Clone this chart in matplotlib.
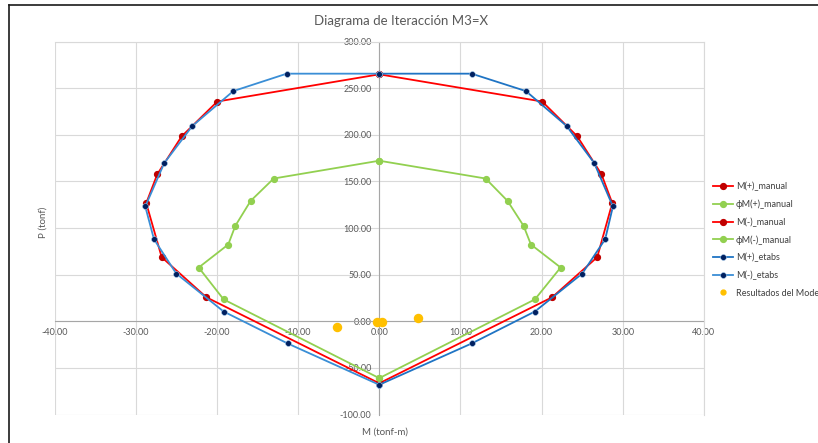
import matplotlib
matplotlib.use("Agg")
import matplotlib.pyplot as plt
from matplotlib.lines import Line2D
import numpy as np

plt.rcParams['font.family'] = ['Lato', 'DejaVu Sans']

# interaction diagram (M in tonf-m, P in tonf)
m_pos_manual = [0.0, 20.07, 24.38, 27.37, 28.70, 26.85, 21.30, 0.0]
p_pos_manual = [265.0, 235.8, 198.6, 157.8, 126.8, 68.8, 25.8, -66.5]
m_neg_manual = [0.0, -19.95, -24.34, -27.34, -28.70, -26.80, -21.30, 0.0]
p_neg_manual = [265.0, 235.8, 198.4, 157.8, 126.8, 68.8, 25.8, -66.5]

m_phi_pos = [0.0, 13.10, 15.80, 17.78, 18.68, 22.34, 19.17, 0.0]
p_phi_pos = [172.3, 153.2, 129.2, 102.4, 82.4, 57.7, 23.5, -61.0]
m_phi_neg = [0.0, -13.00, -15.84, -17.73, -18.60, -22.24, -19.17, 0.0]
p_phi_neg = [172.3, 153.2, 129.2, 102.4, 82.4, 57.7, 23.5, -61.0]

m_pos_etabs = [0.0, 11.38, 18.07, 23.08, 26.48, 28.78, 27.83, 25.00, 19.17, 11.38, 0.0]
p_pos_etabs = [265.7, 265.7, 247.0, 209.5, 169.8, 123.2, 88.1, 51.2, 10.5, -23.8, -68.1]
m_neg_etabs = [0.0, -11.40, -17.98, -23.03, -26.48, -28.82, -27.75, -25.00, -19.17, -11.28, 0.0]
p_neg_etabs = [265.7, 265.7, 247.0, 209.5, 169.8, 123.2, 88.1, 51.2, 10.5, -23.8, -68.1]

m_modelo = [-5.25, -0.30, 0.30, 4.80]
p_modelo = [-6.0, -1.0, -1.0, 3.8]

x_ticks = np.arange(-40, 41, 10)
y_ticks = np.arange(-100, 301, 50)

W, H = 818, 443
fig = plt.figure(figsize=(W / 100, H / 100), dpi=100)
ax = fig.add_axes([54.5 / W, 1 - 414.5 / H, (704 - 54.5) / W, (414.5 - 41.7) / H])

red, red_mk = '#ff0000', '#c00000'
green = '#92d050'
navy = '#002060'

ax.plot(m_pos_manual, p_pos_manual, color=red, lw=1.3, marker='o', ms=4.2,
        mfc=red_mk, mec=red_mk, label='M(+)_manual', zorder=3)
ax.plot(m_phi_pos, p_phi_pos, color=green, lw=1.3, marker='o', ms=4.2,
        mfc=green, mec=green, label='ϕM(+)_manual', zorder=3)
ax.plot(m_neg_manual, p_neg_manual, color=red, lw=1.3, marker='o', ms=4.2,
        mfc=red_mk, mec=red_mk, label='M(-)_manual', zorder=3)
ax.plot(m_phi_neg, p_phi_neg, color=green, lw=1.3, marker='o', ms=4.2,
        mfc=green, mec=green, label='ϕM(-)_manual', zorder=3)
ax.plot(m_pos_etabs, p_pos_etabs, color='#1f74c4', lw=1.3, marker='o', ms=4.2,
        mfc=navy, mec='#9dc3e6', mew=0.4, label='M(+)_etabs', zorder=4)
ax.plot(m_neg_etabs, p_neg_etabs, color='#3a8ed6', lw=1.3, marker='o', ms=4.2,
        mfc=navy, mec='#9dc3e6', mew=0.4, label='M(-)_etabs', zorder=4)
ax.plot(m_modelo, p_modelo, ls='none', marker='o', ms=5.8, mfc='#ffc000',
        mec='#ffc000', label='Resultados del Modelo', zorder=5)

ax.set_xlim(-40, 40)
ax.set_ylim(-100, 300)
ax.set_xticks(x_ticks)
ax.set_yticks(y_ticks)
ax.set_xticklabels(['%.2f' % v for v in x_ticks])
ax.set_yticklabels(['%.2f' % v for v in y_ticks])
ax.grid(True, color='#d9d9d9', lw=0.8)
ax.set_axisbelow(True)

ax.spines['left'].set_position('zero')
ax.spines['bottom'].set_position('zero')
for s in ['left', 'bottom']:
    ax.spines[s].set_color('#a6a6a6')
    ax.spines[s].set_linewidth(0.8)
    ax.spines[s].set_zorder(2)
for s in ['top', 'right']:
    ax.spines[s].set_color('#d9d9d9')
    ax.spines[s].set_linewidth(0.8)
ax.tick_params(axis='both', length=0, labelsize=6.5, labelcolor='#595959')
ax.tick_params(axis='y', pad=5.5)
ax.tick_params(axis='x', pad=5.0)

fig.text(401 / W, 1 - 21 / H, 'Diagrama de Iteracción M3=X', ha='center', va='center',
         fontsize=9.5, color='#595959')
fig.text(43 / W, 1 - 222 / H, 'P (tonf)', ha='center', va='center', rotation=90,
         fontsize=7, color='#595959')
fig.text(385 / W, 1 - 432 / H, 'M (tonf-m)', ha='center', va='center',
         fontsize=7, color='#595959')

leg = ax.legend(loc='upper left', bbox_to_anchor=(712.7 / W, 1 - 181.5 / H),
                bbox_transform=fig.transFigure, frameon=False, fontsize=6.5,
                handlelength=2.3, handletextpad=0.25, labelspacing=0.93,
                borderpad=0, borderaxespad=0, labelcolor='#404040')
leg.legend_handles[-1].set_markersize(3.5)

# chart frame (cut off on the right and bottom in the screenshot)
fig.add_artist(Line2D([9 / W, 9 / W], [0, 1 - 5 / H], transform=fig.transFigure,
                      color='#1a1a1a', lw=1.2))
fig.add_artist(Line2D([9 / W, 1], [1 - 5 / H, 1 - 5 / H], transform=fig.transFigure,
                      color='#1a1a1a', lw=1.2))

fig.savefig('out.png', dpi=100)
